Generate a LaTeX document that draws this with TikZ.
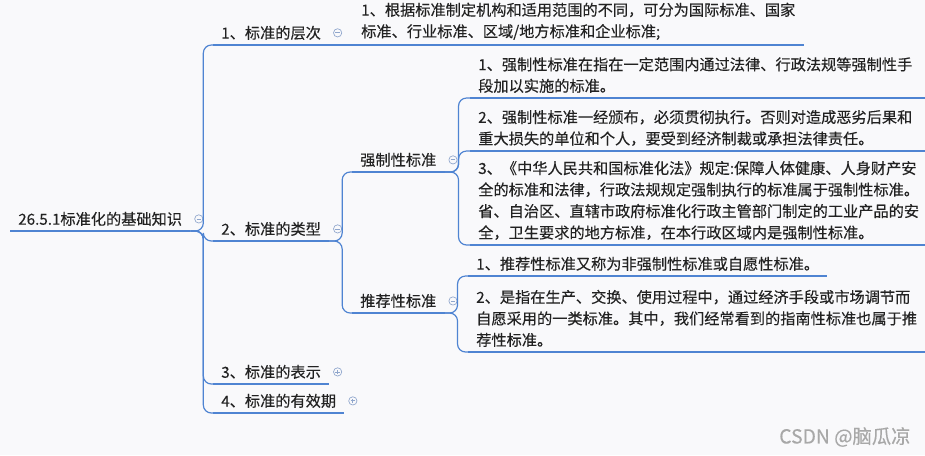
\documentclass[tikz,border=0pt]{standalone}
\usepackage{fontspec}
\setmainfont{Noto Sans CJK SC}[FakeBold=0.25]
\usetikzlibrary{positioning}
\definecolor{bgc}{HTML}{F9F9FB}
\definecolor{linec}{HTML}{4F84D2}
\definecolor{foldc}{HTML}{8FA6CC}
\definecolor{txtc}{HTML}{222222}
\definecolor{markc}{HTML}{A8A8A8}

\begin{document}
\begin{tikzpicture}[x=0.75pt,y=-0.75pt,
        every node/.style={anchor=south west,align=left,inner xsep=6pt,inner ysep=3.6pt,text=txtc,font=\fontsize{11.4pt}{16.1pt}\selectfont},
        uline/.style={draw=linec,line width=2.2pt},
        conn/.style={draw=linec,line width=0.9pt,rounded corners=6pt},
        elbow/.style={to path={-- ++(#1,0) |- (\tikztotarget)}},
        elbow/.default=13,
        fold/.style={circle,draw=foldc,fill=bgc,line width=0.5pt,inner sep=0pt,minimum size=6.2pt},
        minus/.style={fold,path picture={\draw[foldc,line width=0.6pt] (path picture bounding box.center) +(-1.7pt,0) -- +(1.7pt,0);}},
        plus/.style={fold,path picture={\draw[foldc,line width=0.6pt] (path picture bounding box.center) +(-1.7pt,0) -- +(1.7pt,0) (path picture bounding box.center) +(0,-1.7pt) -- +(0,1.7pt);}}]
        \fill[bgc] (0,0) rectangle (925,455);
        \useasboundingbox (0,0) rectangle (925,455);
        \coordinate (rim) at (925,0);

        % topics
        \node[] (root) at (10,231) {26.5.1标准化的基础知识};
        \node[] (t1) at (213,45) {1、标准的层次};
        \node[] (t2) at (213,241) {2、标准的类型};
        \node[] (t3) at (213,384) {3、标准的表示};
        \node[] (t4) at (213,413) {4、标准的有效期};
        \node[] (s1) at (352,172) {强制性标准};
        \node[] (s2) at (352,313) {推荐性标准};

        % details
        \node[] (l1) at (353,45) {1、根据标准制定机构和适用范围的不同，可分为国际标准、国家\\标准、行业标准、区域/地方标准和企业标准;};
        \node[] (q1) at (470,98) {1、强制性标准在指在一定范围内通过法律、行政法规等强制性手\\段加以实施的标准。};
        \node[] (q2) at (470,151) {2、强制性标准一经颁布，必须贯彻执行。否则对造成恶劣后果和\\重大损失的单位和个人，要受到经济制裁或承担法律责任。};
        \node[] (q3) at (470,245) {3、《中华人民共和国标准化法》规定:保障人体健康、人身财产安\\全的标准和法律，行政法规规定强制执行的标准属于强制性标准。\\省、自治区、直辖市政府标准化行政主管部门制定的工业产品的安\\全，卫生要求的地方标准，在本行政区域内是强制性标准。};
        \node[] (r1) at (468,276) {1、推荐性标准又称为非强制性标准或自愿性标准。};
        \node[] (r2) at (468,352) {2、是指在生产、交换、使用过程中，通过经济手段或市场调节而\\自愿采用的一类标准。其中，我们经常看到的指南性标准也属于推\\荐性标准。};

        % fold marks
        \node[minus,right=3pt of root] (f0) {};
        \node[minus,right=3pt of t1] (f1) {};
        \node[minus,right=3pt of t2] (f2) {};
        \node[plus,right=3pt of t3] (f3) {};
        \node[plus,right=3pt of t4] (f4) {};
        \node[minus,right=3pt of s1] (f5) {};
        \node[minus,right=3pt of s2] (f6) {};

        % connectors
        \path[conn] (root.south east) edge[elbow] (t1.south west) edge[elbow] (t2.south west)
            edge[elbow] (t3.south west) edge[elbow] (t4.south west);
        \path[conn] (t1.south east) edge (l1.south west);
        \path[conn] (t2.south east) edge[elbow=13] (s1.south west) edge[elbow=13] (s2.south west);
        \path[conn] (s1.south east) edge[elbow=14] (q1.south west) edge[elbow=14] (q2.south west)
            edge[elbow=14] (q3.south west);
        \path[conn] (s2.south east) edge[elbow=13] (r1.south west) edge[elbow=13] (r2.south west);

        % underlines
        \foreach \n in {root,t1,t2,t3,t4,s1,s2,l1,r1}
            \path[uline] (\n.south west) edge (\n.south east);
        \foreach \n in {q1,q2,q3,r2}
            \path[uline] (\n.south west) edge (\n.south west -| rim);

        \node[anchor=west,inner sep=0pt,text=markc,font=\fontsize{14.5pt}{16pt}\selectfont] (mark) at (779,437) {CSDN @脑瓜凉};
    \end{tikzpicture}
\end{document}
